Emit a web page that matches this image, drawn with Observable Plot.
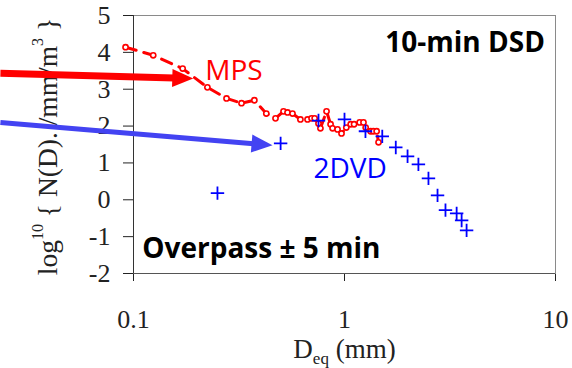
<!DOCTYPE html>
<html><head><meta charset="utf-8">
<script src="https://cdn.jsdelivr.net/npm/d3@7"></script>
<script src="https://cdn.jsdelivr.net/npm/@observablehq/plot@0.6"></script>
<style>body{margin:0;background:#fff;}</style>
</head><body><div id="chart"></div>
<script>
// MPS (red) — diameter (mm) and log10 N(D)
const mpsD = [0.0917,0.124,0.171,0.224,0.276,0.325,0.374,0.426,0.471,0.514,0.537,0.567,0.618,0.668,0.698,0.722,0.753,0.769,0.822,0.859,0.878,0.927,0.968,1.02,1.07,1.11,1.18,1.23,1.26,1.33,1.37,1.42,1.45];
const mpsN = [4.14,3.92,3.56,3.05,2.75,2.62,2.70,2.34,2.21,2.40,2.37,2.34,2.18,2.18,2.21,2.21,2.07,1.94,2.40,2.05,1.94,1.91,1.80,1.96,2.05,2.05,2.10,2.10,1.96,1.86,1.86,1.86,1.56];
// 2DVD (blue)
const dvdD = [0.250,0.498,0.753,1.00,1.257,1.51,1.75,1.99,2.24,2.50,2.76,3.01,3.40,3.59,3.79];
const dvdN = [0.18,1.53,2.15,2.18,1.86,1.72,1.42,1.18,0.96,0.58,0.12,-0.28,-0.37,-0.56,-0.83];
const xTicks = [0.1, 1, 10];
const yTicks = [-2,-1,0,1,2,3,4,5];
// annotations
const notes = ["10-min DSD", "Overpass ± 5 min"];
const noteD = [1.56, 0.110];
const noteN = [4.0, -1.585];
const seriesLabels = ["MPS", "2DVD"];
const seriesColors = ["#ff0000", "#0000ff"];
const labelD = [0.219, 0.713];
const labelN = [3.24, 0.58];
const arrowColors = ["#ff0000", "#4343f2"];
const arrowWidths = [7, 5];
const arrowFromD = [0.0234, 0.0234];
const arrowFromN = [3.43, 2.10];
const arrowToD = [0.192, 0.456];
const arrowToN = [3.29, 1.48];

const mps = mpsD.map((d,i) => ({D: d, N: mpsN[i]}));
const dvd = dvdD.map((d,i) => ({D: d, N: dvdN[i]}));

function options(extra) {
  return {
    width: 572, height: 368,
    marginLeft: 133, marginRight: 17, marginTop: 15, marginBottom: 95,
    style: {fontFamily: "'Liberation Serif', serif", fontSize: "26px", color: "#222", background: "transparent", overflow: "visible"},
    x: {type: "log", domain: [0.1, 10], ticks: xTicks, tickFormat: d => String(d), tickSize: 8, tickPadding: 28, label: null},
    y: {domain: [-2, 5], ticks: yTicks, tickFormat: d => String(d), tickSize: 10, tickPadding: 13, label: null},
    marks: [
      Plot.frame({stroke: "#8a8a8a"}),
      Plot.ruleX([0.1], {stroke: "#333"}),
      Plot.ruleY([-2], {stroke: "#555"}),
      Plot.line(mps, {x: "D", y: "N", stroke: "#ff0000", strokeWidth: 3, strokeDasharray: "11,8"}),
      Plot.dot(mps, {x: "D", y: "N", r: 2.6, stroke: "#ff0000", fill: "white", strokeWidth: 1.6}),
      Plot.dot(dvd, {x: "D", y: "N", symbol: "plus", r: 4.4, stroke: "#0000ff", strokeWidth: 1.8}),
      Plot.text(notes, {x: (d,i) => noteD[i], y: (d,i) => noteN[i], text: d => d, textAnchor: "start", lineAnchor: "bottom", fontFamily: "'Open Sans', sans-serif", fontWeight: "bold", fontSize: 28, fill: "#000"}),
      Plot.text(seriesLabels, {x: (d,i) => labelD[i], y: (d,i) => labelN[i], text: d => d, textAnchor: "start", lineAnchor: "bottom", fontFamily: "'Open Sans', sans-serif", fontSize: 28, fill: (d,i) => seriesColors[i]}),
      Plot.text(["Deq (mm)"], {frameAnchor: "bottom", textAnchor: "middle", dy: 84, lineAnchor: "bottom", fontSize: 27, fill: "#222", ariaLabel: () => "xlabel"}),
      Plot.text(["log10 { N(D). /mm/m3 }"], {frameAnchor: "left", textAnchor: "middle", rotate: -90, dx: -77, dy: 2, lineAnchor: "bottom", fontSize: 27.5, fill: "#222", ariaLabel: () => "ylabel"}),
      ...extra
    ]
  };
}

// first pass: obtain the scales for arrow geometry
const probe = Plot.plot(options([]));
const sx = probe.scale("x"), sy = probe.scale("y");

function headSymbol(ang, L, W) {
  return {draw(ctx) {
    const c = Math.cos(ang), s = Math.sin(ang);
    const pts = [[0,0],[-L,-W],[-L,W]].map(([u,v]) => [u*c - v*s, u*s + v*c]);
    ctx.moveTo(pts[0][0], pts[0][1]);
    ctx.lineTo(pts[1][0], pts[1][1]);
    ctx.lineTo(pts[2][0], pts[2][1]);
    ctx.closePath();
  }};
}

const arrowMarks = [];
arrowToD.forEach((d, i) => {
  const x1 = sx.apply(arrowFromD[i]), y1 = sy.apply(arrowFromN[i]);
  const x2 = sx.apply(d), y2 = sy.apply(arrowToN[i]);
  const ang = Math.atan2(y2 - y1, x2 - x1);
  const L = 21, W = 9;
  const bx = x2 - Math.cos(ang) * (L - 2), by = y2 - Math.sin(ang) * (L - 2);
  const shaft = [{x1: arrowFromD[i], y1: arrowFromN[i], x2: sx.invert(bx), y2: sy.invert(by)}];
  arrowMarks.push(Plot.link(shaft, {x1: "x1", y1: "y1", x2: "x2", y2: "y2", stroke: arrowColors[i], strokeWidth: arrowWidths[i]}));
  arrowMarks.push(Plot.dot([{D: d, N: arrowToN[i]}], {x: "D", y: "N", symbol: headSymbol(ang, L, W), fill: arrowColors[i], stroke: "none"}));
});

const svg = Plot.plot(options(arrowMarks));
document.getElementById("chart").appendChild(svg);

function findText(label) {
  let el = svg.querySelector(`[aria-label='${label}']`);
  if (el && el.tagName.toLowerCase() !== "text") el = el.querySelector("text");
  return d3.select(el);
}

// rich text for the axis labels (sub/superscripts)
const xl = findText("xlabel");
xl.text(null);
xl.append("tspan").text("D");
xl.append("tspan").attr("font-size", 17).attr("dy", 6).text("eq");
xl.append("tspan").attr("dy", -6).text(" (mm)");

const yl = findText("ylabel");
yl.text(null);
yl.append("tspan").text("log");
yl.append("tspan").attr("font-size", 16).attr("dy", -14).text("10");
yl.append("tspan").attr("dy", 14).text(" { N(D). /mm/m");
yl.append("tspan").attr("font-size", 16).attr("dy", -14).text("3");
yl.append("tspan").attr("dy", 14).text(" }");
</script>
</body></html>
